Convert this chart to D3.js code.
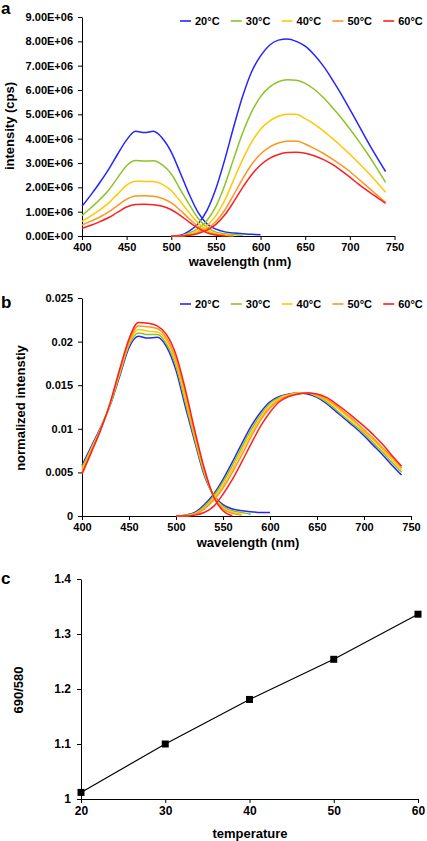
<!DOCTYPE html>
<html><head><meta charset="utf-8">
<script src="https://cdn.jsdelivr.net/npm/d3@7"></script>
<style>
html,body{margin:0;padding:0;background:#fff;}
text{font-family:"Liberation Sans",Arial,sans-serif;font-weight:bold;fill:#000;}
</style></head>
<body><svg id="c" width="427" height="841"></svg>
<script>
// ---------- data ----------
const temps = ["20°C","30°C","40°C","50°C","60°C"];
const colors = ["#2424ff","#8cc425","#ffc800","#ff9520","#ff1e1e"];

const wlBand1 = [400,410,420,430,440,450,460,470,480,490,500,510,520,530,540,550,560,570,580,590,600];
const wlBand2 = [500,510,520,530,540,550,560,570,580,590,600,610,620,630,640,650,660,670,680,690,700,710,720,730,740];

// panel a : intensity (cps), band 1
const a1_20 = [1.22e6,1.69e6,2.2e6,2.75e6,3.37e6,3.95e6,4.3e6,4.25e6,4.3e6,4.02e6,3.45e6,2.6e6,1.72e6,0.97e6,0.5e6,0.28e6,0.17e6,0.12e6,0.09e6,0.07e6,0.05e6];
const a1_30 = [0.84e6,1.16e6,1.5e6,1.89e6,2.4e6,2.89e6,3.1e6,3.08e6,3.09e6,2.92e6,2.55e6,1.92e6,1.3e6,0.73e6,0.36e6,0.16e6,0.09e6,0.06e6,0.03e6];
const a1_40 = [0.6e6,0.83e6,1.07e6,1.36e6,1.73e6,2.09e6,2.25e6,2.24e6,2.24e6,2.12e6,1.86e6,1.43e6,0.96e6,0.54e6,0.24e6,0.1e6,0.04e6,0.02e6];
const a1_50 = [0.45e6,0.61e6,0.78e6,0.99e6,1.26e6,1.51e6,1.64e6,1.65e6,1.63e6,1.54e6,1.36e6,1.06e6,0.71e6,0.4e6,0.17e6,0.06e6,0.02e6,0.01e6];
const a1_60 = [0.31e6,0.44e6,0.59e6,0.76e6,0.98e6,1.19e6,1.29e6,1.3e6,1.28e6,1.22e6,1.08e6,0.85e6,0.57e6,0.32e6,0.13e6,0.04e6,0];
// panel a : intensity (cps), band 2
const a2_20 = [0,0.03e6,0.2e6,0.5e6,1.05e6,1.95e6,3.15e6,4.5e6,5.75e6,6.75e6,7.4e6,7.84e6,8.05e6,8.1e6,8.0e6,7.8e6,7.45e6,7.0e6,6.45e6,5.85e6,5.2e6,4.55e6,3.88e6,3.25e6,2.65e6];
const a2_30 = [0,0.01e6,0.12e6,0.3e6,0.64e6,1.22e6,2.1e6,3.19e6,4.24e6,5.1e6,5.73e6,6.12e6,6.34e6,6.42e6,6.4e6,6.27e6,6.03e6,5.7e6,5.3e6,4.87e6,4.4e6,3.9e6,3.37e6,2.8e6,2.2e6];
const a2_40 = [0,0,0.07e6,0.2e6,0.43e6,0.84e6,1.48e6,2.32e6,3.15e6,3.86e6,4.39e6,4.72e6,4.92e6,5.0e6,5.0e6,4.82e6,4.6e6,4.33e6,4.02e6,3.7e6,3.36e6,3.0e6,2.62e6,2.22e6,1.8e6];
const a2_50 = [0,0,0.04e6,0.14e6,0.3e6,0.6e6,1.07e6,1.7e6,2.36e6,2.94e6,3.37e6,3.65e6,3.82e6,3.89e6,3.9e6,3.78e6,3.6e6,3.4e6,3.17e6,2.92e6,2.65e6,2.33e6,2.02e6,1.7e6,1.38e6];
const a2_60 = [0,0,0.03e6,0.1e6,0.24e6,0.48e6,0.87e6,1.41e6,2.0e6,2.52e6,2.92e6,3.19e6,3.35e6,3.43e6,3.44e6,3.4e6,3.3e6,3.15e6,2.95e6,2.7e6,2.42e6,2.12e6,1.85e6,1.6e6,1.34e6];

// panel b : normalized intensity, band 1
const b1_20 = [0.0058,0.008,0.0102,0.0127,0.016,0.0193,0.0206,0.0204,0.0205,0.0194,0.0167,0.0125,0.0085,0.0047,0.0024,0.0013,0.0008,0.0006,0.0005,0.0004,0.0004];
const b1_30 = [0.0056,0.0078,0.0101,0.0128,0.0162,0.0196,0.021,0.0208,0.0208,0.0197,0.0172,0.013,0.0088,0.0049,0.0024,0.0011,0.0006,0.0004,0.0002];
const b1_40 = [0.0053,0.0077,0.01,0.0128,0.0164,0.0198,0.0214,0.0212,0.0211,0.0201,0.0176,0.0135,0.0091,0.0051,0.0023,0.0009,0.0004,0.0002];
const b1_50 = [0.005,0.0075,0.01,0.0129,0.0166,0.02,0.0218,0.0217,0.0215,0.0204,0.018,0.014,0.0094,0.0053,0.0022,0.0008,0.0003,0.0001];
const b1_60 = [0.0048,0.0073,0.0099,0.013,0.0168,0.0203,0.0222,0.0221,0.0218,0.0208,0.0185,0.0145,0.0098,0.0055,0.0022,0.0006,0];
// panel b : normalized intensity, band 2
const b2_20 = [0,0.0001,0.0004,0.0013,0.0025,0.0042,0.0062,0.0083,0.0103,0.0119,0.0131,0.0137,0.014,0.0141,0.014,0.0136,0.0129,0.012,0.0111,0.0102,0.0092,0.0081,0.007,0.0058,0.0047];
const b2_30 = [0,0.0001,0.0003,0.0011,0.0023,0.0039,0.0058,0.0079,0.0099,0.0116,0.0129,0.0136,0.0139,0.0141,0.0141,0.0137,0.0131,0.0122,0.0113,0.0104,0.0095,0.0084,0.0073,0.0061,0.005];
const b2_40 = [0,0,0.0003,0.0009,0.002,0.0035,0.0054,0.0075,0.0095,0.0113,0.0126,0.0135,0.0139,0.0141,0.0141,0.0138,0.0133,0.0125,0.0116,0.0107,0.0097,0.0087,0.0076,0.0064,0.0053];
const b2_50 = [0,0,0.0002,0.0008,0.0018,0.0032,0.005,0.007,0.0091,0.011,0.0124,0.0133,0.0138,0.014,0.0141,0.0139,0.0134,0.0127,0.0118,0.0109,0.0099,0.0089,0.0078,0.0067,0.0055];
const b2_60 = [0,0,0.0001,0.0004,0.0011,0.0025,0.0042,0.0062,0.0083,0.0103,0.0119,0.0131,0.0137,0.014,0.0141,0.014,0.0136,0.0129,0.0121,0.0112,0.0103,0.0093,0.0082,0.0069,0.0057];

// panel c
const temperature = [20,30,40,50,60];
const ratio = [1.012,1.1,1.181,1.254,1.336];

const wlTicks = [400,450,500,550,600,650,700,750];
const aTicks = [0,1e6,2e6,3e6,4e6,5e6,6e6,7e6,8e6,9e6];
const bTicks = [0,0.005,0.01,0.015,0.02,0.025];
const cTicksY = [1,1.1,1.2,1.3,1.4];
const cTicksX = [20,30,40,50,60];

// ---------- drawing ----------
const svg = d3.select("#c");
const FS = 11;

function drawLegend(y){
  const g = svg.append("g");
  temps.forEach((t,i)=>{
    const x0 = 180 + i*50.8;
    g.append("line").attr("x1",x0).attr("x2",x0+11).attr("y1",y).attr("y2",y)
      .attr("stroke",colors[i]).attr("stroke-width",1.6);
    g.append("text").attr("x",x0+15).attr("y",y+4).attr("font-size",FS).text(t);
  });
}

function styleAxis(g){
  g.selectAll("path,line").attr("stroke","#000").attr("stroke-width",1);
  g.selectAll("text").attr("font-size",FS).attr("font-family","Liberation Sans, Arial, sans-serif").attr("font-weight","bold").attr("fill","#000");
}

function spectrumPanel(opt){
  const x = d3.scaleLinear().domain([400,750]).range([opt.left,opt.right]);
  const y = d3.scaleLinear().domain(opt.ydom).range([opt.bottom,opt.top]);
  const gx = svg.append("g").attr("transform",`translate(0,${opt.bottom})`)
    .call(d3.axisBottom(x).tickValues(wlTicks).tickSize(4).tickPadding(3).tickSizeOuter(0));
  styleAxis(gx);
  const gy = svg.append("g").attr("transform",`translate(${opt.left},0)`)
    .call(d3.axisLeft(y).tickValues(opt.yticks).tickFormat(opt.fmt).tickSize(4).tickPadding(5).tickSizeOuter(0));
  styleAxis(gy);
  const line = d3.line().x(d=>x(d[0])).y(d=>y(d[1])).curve(d3.curveMonotoneX);
  opt.series.forEach((s,i)=>{
    [[wlBand1,s[0]],[wlBand2,s[1]]].forEach(([wl,vals])=>{
      const pts = vals.map((v,k)=>[wl[k],v]);
      svg.append("path").datum(pts).attr("d",line).attr("fill","none")
        .attr("stroke",colors[i]).attr("stroke-width",1.5).attr("stroke-linejoin","round");
    });
  });
}

// panel a
svg.append("text").attr("x",1).attr("y",14).attr("font-size",17).text("a");
spectrumPanel({left:82,right:394.5,top:17,bottom:236,ydom:[0,9e6],yticks:aTicks,
  fmt:d=> d===0 ? "0.00E+00" : (d/1e6).toFixed(2)+"E+06",
  series:[[a1_20,a2_20],[a1_30,a2_30],[a1_40,a2_40],[a1_50,a2_50],[a1_60,a2_60]]});
drawLegend(21);
svg.append("text").attr("x",240).attr("y",266).attr("text-anchor","middle").attr("font-size",13).text("wavelength (nm)");
svg.append("text").attr("transform","translate(14,126) rotate(-90)").attr("text-anchor","middle").attr("font-size",13).text("intensity (cps)");

// panel b
svg.append("text").attr("x",1).attr("y",308).attr("font-size",17).text("b");
spectrumPanel({left:82,right:411,top:298,bottom:516,ydom:[0,0.025],yticks:bTicks,
  fmt:d=> d===0 ? "0" : String(+d.toFixed(3)),
  series:[[b1_20,b2_20],[b1_30,b2_30],[b1_40,b2_40],[b1_50,b2_50],[b1_60,b2_60]]});
drawLegend(304);
svg.append("text").attr("x",248).attr("y",547).attr("text-anchor","middle").attr("font-size",13).text("wavelength (nm)");
svg.append("text").attr("transform","translate(25,408) rotate(-90)").attr("text-anchor","middle").attr("font-size",13).text("normalized intenstiy");

// panel c
svg.append("text").attr("x",1).attr("y",584).attr("font-size",17).text("c");
{
  const x = d3.scaleLinear().domain([20,60]).range([81,418]);
  const y = d3.scaleLinear().domain([1,1.4]).range([799,579]);
  const gx = svg.append("g").attr("transform","translate(0,799)")
    .call(d3.axisBottom(x).tickValues(cTicksX).tickSize(4).tickPadding(3).tickSizeOuter(0));
  styleAxis(gx);
  gx.selectAll("text").attr("font-size",12);
  const gy = svg.append("g").attr("transform","translate(81,0)")
    .call(d3.axisLeft(y).tickValues(cTicksY).tickFormat(d=>String(+d.toFixed(1))).tickSize(4).tickPadding(6).tickSizeOuter(0));
  styleAxis(gy);
  gy.selectAll("text").attr("font-size",12);
  const pts = temperature.map((t,i)=>[t,ratio[i]]);
  svg.append("path").datum(pts).attr("d",d3.line().x(d=>x(d[0])).y(d=>y(d[1])))
    .attr("fill","none").attr("stroke","#000").attr("stroke-width",1.2);
  svg.selectAll("rect.m").data(pts).enter().append("rect").attr("class","m")
    .attr("x",d=>x(d[0])-3.5).attr("y",d=>y(d[1])-3.5).attr("width",7).attr("height",7).attr("fill","#000");
  svg.append("text").attr("x",250).attr("y",838).attr("text-anchor","middle").attr("font-size",13).text("temperature");
  svg.append("text").attr("transform","translate(23,690) rotate(-90)").attr("text-anchor","middle").attr("font-size",13).text("690/580");
}
</script></body></html>
